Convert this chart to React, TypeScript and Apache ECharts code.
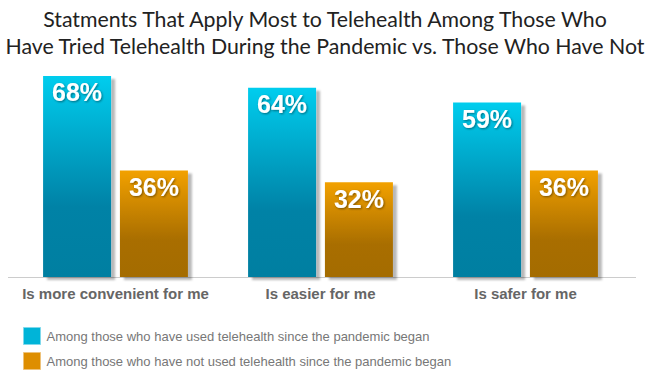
import React, { useEffect, useRef } from "react";
import * as echarts from "echarts";

const categories = ["Is more convenient for me", "Is easier for me", "Is safer for me"];
const usedValues = [68, 64, 59];
const notUsedValues = [36, 32, 36];
const seriesNames = [
  "Among those who have used telehealth since the pandemic began",
  "Among those who have not used telehealth since the pandemic began",
];
const titleLines = [
  "Statments That Apply Most to Telehealth Among Those Who",
  "Have Tried Telehealth During the Pandemic vs. Those Who Have Not",
];

export default function App() {
  const ref = useRef<HTMLDivElement>(null);
  useEffect(() => {
    if (!ref.current) return;
    const chart = echarts.init(ref.current, null, { renderer: "svg" });
    const labelCfg = {
      show: true,
      position: "insideTop",
      distance: 4,
      formatter: "{c}%",
      color: "#fff",
      fontFamily: "Liberation Sans, Arial, sans-serif",
      fontWeight: "bold",
      fontSize: 25,
      textShadowColor: "rgba(0,0,0,0.45)",
      textShadowBlur: 2,
      textShadowOffsetX: 1,
      textShadowOffsetY: 1,
    };
    const barShadow = {
      shadowColor: "rgba(0,0,0,0.28)",
      shadowBlur: 2,
      shadowOffsetX: 4,
      shadowOffsetY: 3,
    };
    chart.setOption({
      animation: false,
      title: {
        text: titleLines.join("\n"),
        left: "center",
        top: 0,
        textStyle: {
          fontFamily: "Lato, sans-serif",
          fontWeight: "normal",
          fontSize: 21.3,
          lineHeight: 27,
          color: "#222",
        },
      },
      legend: {
        orient: "vertical",
        left: 23,
        top: 327,
        padding: 0,
        itemWidth: 17,
        itemHeight: 17,
        itemGap: 7,
        icon: "rect",
        textStyle: {
          fontFamily: "Liberation Sans, Arial, sans-serif",
          fontSize: 13,
          color: "#777",
          padding: [0, 0, 0, 1],
        },
        data: [
          { name: seriesNames[0], itemStyle: { color: "#00B4D8", borderColor: "#7fd9ec", borderWidth: 1 } },
          { name: seriesNames[1], itemStyle: { color: "#DE8E00", borderColor: "#eec27a", borderWidth: 1 } },
        ],
      },
      grid: { left: 13, right: 22, top: 70, bottom: 98, containLabel: false },
      xAxis: {
        type: "category",
        data: categories,
        axisLine: { show: false },
        axisTick: { show: false },
        axisLabel: {
          interval: 0,
          margin: 9,
          fontFamily: "Liberation Sans, Arial, sans-serif",
          fontWeight: "bold",
          fontSize: 15,
          color: "#666",
        },
      },
      yAxis: {
        type: "value",
        min: 0,
        max: 70,
        show: false,
        splitLine: { show: false },
      },
      graphic: [
        {
          type: "line",
          shape: { x1: 8, y1: 277.5, x2: 636, y2: 277.5 },
          style: { stroke: "#cccccc", lineWidth: 1 },
          z: 0,
        },
      ],
      series: [
        {
          name: seriesNames[0],
          type: "bar",
          data: usedValues,
          barWidth: 68,
          barGap: "13%",
          label: labelCfg,
          itemStyle: {
            ...barShadow,
            color: new echarts.graphic.LinearGradient(0, 0, 0, 1, [
              { offset: 0, color: "#00CDEE" },
              { offset: 0.65, color: "#0082A6" },
              { offset: 1, color: "#007FA1" },
            ]),
          },
        },
        {
          name: seriesNames[1],
          type: "bar",
          data: notUsedValues,
          barWidth: 68,
          barGap: "13%",
          label: labelCfg,
          itemStyle: {
            ...barShadow,
            color: new echarts.graphic.LinearGradient(0, 0, 0, 1, [
              { offset: 0, color: "#F2A100" },
              { offset: 0.65, color: "#A96E00" },
              { offset: 1, color: "#A46C00" },
            ]),
          },
        },
      ],
    });
    return () => chart.dispose();
  }, []);
  return <div ref={ref} style={{ width: 650, height: 375, position: "absolute", left: 0, top: 0 }} />;
}
